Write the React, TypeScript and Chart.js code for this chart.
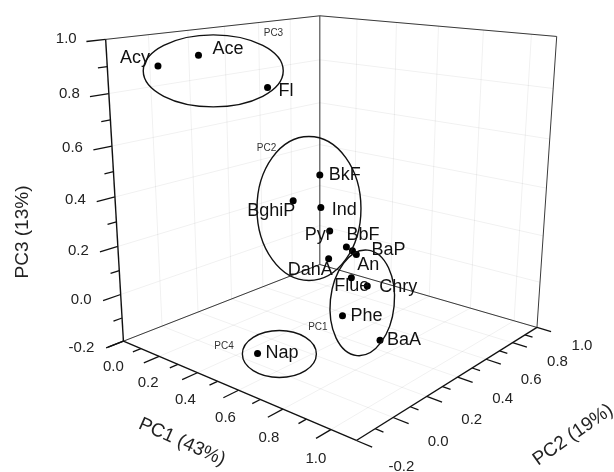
import React, { useEffect, useRef } from "react";
import { Chart, registerables } from "chart.js";
Chart.register(...registerables);

const WIDTH = 614;
const HEIGHT = 472;

const PC1_MIN = 0, PC1_MAX = 1.1;
const PC2_MIN = -0.2, PC2_MAX = 1.0;
const PC3_MIN = -0.2, PC3_MAX = 1.0;

const PC1_TICKS = [0, 0.2, 0.4, 0.6, 0.8, 1.0];
const PC1_MINOR = [0.1, 0.3, 0.5, 0.7, 0.9];
const PC2_TICKS = [-0.2, 0, 0.2, 0.4, 0.6, 0.8, 1.0];
const PC2_MINOR = [-0.1, 0.1, 0.3, 0.5, 0.7, 0.9];
const PC3_TICKS = [-0.2, 0, 0.2, 0.4, 0.6, 0.8, 1.0];
const PC3_MINOR = [-0.1, 0.1, 0.3, 0.5, 0.7, 0.9];

const PAH = ["Acy","Ace","Fl","BkF","Ind","BghiP","Pyr","BbF","BaP","An","DahA","Flue","Chry","Phe","BaA","Nap"];
const PC1 = [0.15, 0.2, 0.3, 0.25, 0.3, 0.2, 0.45, 0.5, 0.6, 0.65, 0.4, 0.7, 0.75, 0.85, 0.9, 0.5];
const PC2 = [-0.096, 0.055, 0.311, 0.686, 0.63, 0.573, 0.497, 0.54, 0.445, 0.402, 0.555, 0.305, 0.335, 0.055, 0.206, 0.01];
const PC3 = [0.907, 0.936, 0.794, 0.359, 0.236, 0.258, 0.196, 0.128, 0.161, 0.168, 0.048, 0.113, 0.084, 0.081, -0.049, -0.163];

// layout: where the box corners sit on the page (normalized u,v,w -> screen)
const CORNERS = [
  [0,0,0,121,343],[1,0,0,357,444],[1,1,0,540,329],[0,1,0,320,265],
  [0,0,1,103,36],[1,1,1,560,33],[0,1,1,320,12],
];

function solveLinear(A: number[][], b: number[]): number[] {
  const n = b.length;
  const M = A.map((r, i) => [...r, b[i]]);
  for (let c = 0; c < n; c++) {
    let p = c;
    for (let r = c + 1; r < n; r++) if (Math.abs(M[r][c]) > Math.abs(M[p][c])) p = r;
    const t = M[c]; M[c] = M[p]; M[p] = t;
    for (let r = 0; r < n; r++) if (r !== c) {
      const f = M[r][c] / M[c][c];
      for (let k = c; k <= n; k++) M[r][k] -= f * M[c][k];
    }
  }
  return M.map((r, i) => r[n] / r[i]);
}
const NX = 300, NY = 250, NS = 100;
function fitCamera(): number[] {
  const rows: number[][] = [], rhs: number[] = [];
  for (const [X, Y, Z, sx, sy] of CORNERS) {
    const x = (sx - NX) / NS, y = (sy - NY) / NS;
    rows.push([X, Y, Z, 1, 0, 0, 0, 0, -x * X, -x * Y, -x * Z]); rhs.push(x);
    rows.push([0, 0, 0, 0, X, Y, Z, 1, -y * X, -y * Y, -y * Z]); rhs.push(y);
  }
  const n = 11;
  const ATA = Array.from({ length: n }, () => Array(n).fill(0));
  const ATb = Array(n).fill(0);
  rows.forEach((r, i) => {
    for (let a = 0; a < n; a++) {
      ATb[a] += r[a] * rhs[i];
      for (let b = 0; b < n; b++) ATA[a][b] += r[a] * r[b];
    }
  });
  return solveLinear(ATA, ATb);
}
const P = fitCamera();
function persp(u: number, v: number, w: number) {
  const d = P[8] * u + P[9] * v + P[10] * w + 1;
  return [
    ((P[0] * u + P[1] * v + P[2] * w + P[3]) / d) * NS + NX,
    ((P[4] * u + P[5] * v + P[6] * w + P[7]) / d) * NS + NY,
  ];
}
const RES: Record<string, number[]> = {};
for (const [X, Y, Z, sx, sy] of CORNERS) {
  const p = persp(X, Y, Z);
  RES[`${X}${Y}${Z}`] = [sx - p[0], sy - p[1]];
}
RES["101"] = [0, 1].map((k) => (RES["001"][k] + RES["100"][k] + RES["111"][k]) / 3);
function projN(u: number, v: number, w: number) {
  const p = persp(u, v, w);
  let dx = 0, dy = 0;
  for (const a of [0, 1]) for (const b of [0, 1]) for (const c of [0, 1]) {
    const wt = (a ? u : 1 - u) * (b ? v : 1 - v) * (c ? w : 1 - w);
    const r = RES[`${a}${b}${c}`];
    dx += wt * r[0]; dy += wt * r[1];
  }
  return { x: p[0] + dx, y: p[1] + dy };
}
const nu = (a: number) => (a - PC1_MIN) / (PC1_MAX - PC1_MIN);
const nv = (a: number) => (a - PC2_MIN) / (PC2_MAX - PC2_MIN);
const nw = (a: number) => (a - PC3_MIN) / (PC3_MAX - PC3_MIN);
function proj(a: number, b: number, c: number) { return projN(nu(a), nv(b), nw(c)); }

const LABEL_DX = [-8, 14, 11, 9, 11, 2, -25, 0, 19, 1, -41, -17, 12, 8, 7, 8];
const LABEL_DY = [-8, -6, 3, 0, 3, 10, 4, -12, -1, 10, 11, 8, 1, 0, 0, 0];
const LABEL_ALIGN = ["right","left","left","left","left","right","left","left","left","left","left","left","left","left","left","left"];

const GROUPS = ["PC3", "PC2", "PC1", "PC4"];
const GROUP_TAG_X = [273, 266, 318, 223];
const GROUP_TAG_Y = [30, 147, 329, 348];
const ELL_CX = [212, 309, 363, 279];
const ELL_CY = [68, 208, 304, 356];
const ELL_RX = [70, 52, 32, 37];
const ELL_RY = [36, 72, 53, 23.5];
const ELL_ROT = [0, 0, 0.1, 0];

const FONT = "'Liberation Sans', Arial, sans-serif";
const fmt = (t: number) => (Math.abs(t) < 1e-9 ? "0.0" : t.toFixed(1));

export default function App() {
  const ref = useRef<HTMLCanvasElement>(null);
  useEffect(() => {
    const canvas = ref.current!;
    const plugin = {
      id: "box3d",
      beforeDatasetsDraw(chart: any) {
        const ctx = chart.ctx;
        const sx = chart.scales.x, sy = chart.scales.y;
        const pt = (a: number, b: number, c: number) => {
          const p = proj(a, b, c);
          return { x: sx.getPixelForValue(p.x), y: sy.getPixelForValue(p.y) };
        };
        const line = (p: any, q: any, col: string, lw: number) => {
          ctx.strokeStyle = col; ctx.lineWidth = lw;
          ctx.beginPath(); ctx.moveTo(p.x, p.y); ctx.lineTo(q.x, q.y); ctx.stroke();
        };
        ctx.save();
        const g = "rgba(0,0,0,0.06)";
        PC1_TICKS.forEach((t) => line(pt(t, PC2_MIN, PC3_MIN), pt(t, PC2_MAX, PC3_MIN), g, 1));
        PC2_TICKS.forEach((t) => line(pt(PC1_MIN, t, PC3_MIN), pt(PC1_MAX, t, PC3_MIN), g, 1));
        PC2_TICKS.forEach((t) => line(pt(PC1_MIN, t, PC3_MIN), pt(PC1_MIN, t, PC3_MAX), g, 1));
        PC3_TICKS.forEach((t) => line(pt(PC1_MIN, PC2_MIN, t), pt(PC1_MIN, PC2_MAX, t), g, 1));
        PC1_TICKS.forEach((t) => line(pt(t, PC2_MAX, PC3_MIN), pt(t, PC2_MAX, PC3_MAX), g, 1));
        PC3_TICKS.forEach((t) => line(pt(PC1_MIN, PC2_MAX, t), pt(PC1_MAX, PC2_MAX, t), g, 1));
        const e = "#3a3a3a";
        line(pt(PC1_MIN, PC2_MAX, PC3_MIN), pt(PC1_MIN, PC2_MAX, PC3_MAX), e, 1);
        line(pt(PC1_MAX, PC2_MAX, PC3_MIN), pt(PC1_MAX, PC2_MAX, PC3_MAX), e, 1);
        line(pt(PC1_MIN, PC2_MIN, PC3_MAX), pt(PC1_MIN, PC2_MAX, PC3_MAX), e, 1);
        line(pt(PC1_MIN, PC2_MAX, PC3_MAX), pt(PC1_MAX, PC2_MAX, PC3_MAX), e, 1);
        line(pt(PC1_MIN, PC2_MIN, PC3_MIN), pt(PC1_MIN, PC2_MAX, PC3_MIN), e, 1);
        line(pt(PC1_MIN, PC2_MAX, PC3_MIN), pt(PC1_MAX, PC2_MAX, PC3_MIN), e, 1);
        line(pt(PC1_MIN, PC2_MIN, PC3_MIN), pt(PC1_MIN, PC2_MIN, PC3_MAX), "#111", 1.4);
        line(pt(PC1_MIN, PC2_MIN, PC3_MIN), pt(PC1_MAX, PC2_MIN, PC3_MIN), "#111", 1.4);
        line(pt(PC1_MAX, PC2_MIN, PC3_MIN), pt(PC1_MAX, PC2_MAX, PC3_MIN), "#111", 1.4);
        const tk = "#111";
        PC3_TICKS.forEach((t) => line(pt(PC1_MIN, PC2_MIN, t), pt(PC1_MIN, PC2_MIN - 0.085, t), tk, 1.3));
        PC3_MINOR.forEach((t) => line(pt(PC1_MIN, PC2_MIN, t), pt(PC1_MIN, PC2_MIN - 0.042, t), tk, 1.3));
        PC1_TICKS.forEach((t) => line(pt(t, PC2_MIN, PC3_MIN), pt(t, PC2_MIN - 0.075, PC3_MIN), tk, 1.3));
        PC1_MINOR.forEach((t) => line(pt(t, PC2_MIN, PC3_MIN), pt(t, PC2_MIN - 0.04, PC3_MIN), tk, 1.3));
        PC2_TICKS.forEach((t) => line(pt(PC1_MAX, t, PC3_MIN), pt(PC1_MAX + 0.06, t, PC3_MIN), tk, 1.3));
        PC2_MINOR.forEach((t) => line(pt(PC1_MAX, t, PC3_MIN), pt(PC1_MAX + 0.032, t, PC3_MIN), tk, 1.3));
        ctx.fillStyle = "#222";
        ctx.font = `15px ${FONT}`;
        ctx.textBaseline = "middle";
        ctx.textAlign = "right";
        PC3_TICKS.forEach((t) => {
          const p = pt(PC1_MIN, PC2_MIN, t);
          ctx.fillText(fmt(t), p.x - 29, p.y - 1 + 8 * (1 - nw(t)));
        });
        ctx.textAlign = "center";
        PC1_TICKS.forEach((t) => {
          const p = pt(t, PC2_MIN, PC3_MIN);
          ctx.fillText(fmt(t), p.x - 10 - 5 * t, p.y + 26 + 3 * t);
        });
        PC2_TICKS.forEach((t) => {
          const p = pt(PC1_MAX, t, PC3_MIN);
          ctx.fillText(fmt(t), p.x + 45, p.y + 18 + 8 * (1 - nv(t)));
        });
        ctx.font = `19px ${FONT}`;
        ctx.save(); ctx.translate(23, 232); ctx.rotate(-Math.PI / 2); ctx.fillText("PC3 (13%)", 0, 0); ctx.restore();
        ctx.save(); ctx.translate(182, 442); ctx.rotate(24 * Math.PI / 180); ctx.fillText("PC1 (43%)", 0, 0); ctx.restore();
        ctx.save(); ctx.translate(573, 435); ctx.rotate(-35 * Math.PI / 180); ctx.fillText("PC2 (19%)", 0, 0); ctx.restore();
        ctx.restore();
      },
      afterDatasetsDraw(chart: any) {
        const ctx = chart.ctx;
        const sx = chart.scales.x, sy = chart.scales.y;
        ctx.save();
        ctx.strokeStyle = "#111"; ctx.lineWidth = 1.4;
        GROUPS.forEach((_, i) => {
          ctx.beginPath();
          ctx.ellipse(sx.getPixelForValue(ELL_CX[i]), sy.getPixelForValue(ELL_CY[i]), ELL_RX[i], ELL_RY[i], ELL_ROT[i], 0, Math.PI * 2);
          ctx.stroke();
        });
        ctx.fillStyle = "#333"; ctx.font = `10px ${FONT}`; ctx.textAlign = "center"; ctx.textBaseline = "middle";
        GROUPS.forEach((gname, i) => ctx.fillText(gname, sx.getPixelForValue(GROUP_TAG_X[i]), sy.getPixelForValue(GROUP_TAG_Y[i])));
        const meta = chart.getDatasetMeta(0);
        ctx.fillStyle = "#111"; ctx.font = `18px ${FONT}`;
        PAH.forEach((n, i) => {
          const el = meta.data[i];
          ctx.textAlign = LABEL_ALIGN[i];
          ctx.fillText(n, el.x + LABEL_DX[i], el.y + LABEL_DY[i]);
        });
        ctx.restore();
      },
    };
    const chart = new Chart(canvas, {
      type: "scatter",
      data: {
        datasets: [{
          label: "PAH loadings",
          data: PAH.map((_, i) => proj(PC1[i], PC2[i], PC3[i])),
          backgroundColor: "#000", borderColor: "#000", pointRadius: 3.5, borderWidth: 0,
        }],
      },
      options: {
        responsive: false, animation: false,
        layout: { padding: 0 },
        scales: {
          x: { type: "linear", min: 0, max: WIDTH, display: false },
          y: { type: "linear", min: 0, max: HEIGHT, reverse: true, display: false },
        },
        plugins: { legend: { display: false }, tooltip: { enabled: false } },
      },
      plugins: [plugin],
    });
    return () => chart.destroy();
  }, []);
  return (
    <div style={{ position: "absolute", left: 0, top: 0, width: WIDTH, height: HEIGHT, background: "#fff" }}>
      <canvas ref={ref} width={WIDTH} height={HEIGHT} />
    </div>
  );
}
